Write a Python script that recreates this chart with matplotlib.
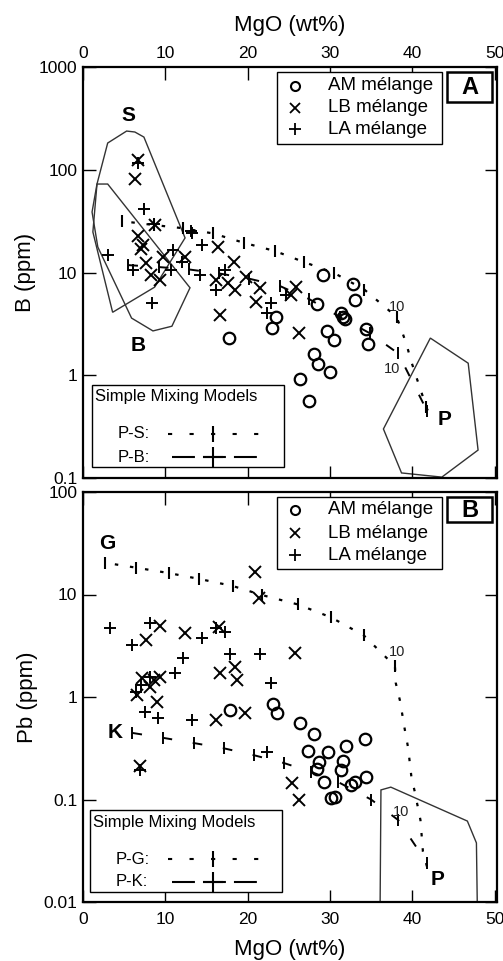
import matplotlib.pyplot as plt
from matplotlib.patches import Rectangle, Polygon
from matplotlib.lines import Line2D

plt.rcParams['font.family'] = ['Liberation Sans', 'DejaVu Sans']
plt.rcParams['lines.scale_dashes'] = False

# ---------------- data, panel A (B vs MgO) ----------------
am_mgo_a = [17.7, 23.5, 23.0, 29.2, 32.8, 33.0, 28.4, 31.3, 31.8, 31.6, 34.4, 34.6, 29.7, 30.5, 28.1, 28.6, 30.0, 26.4, 27.4]
am_b_a = [2.3, 3.7, 2.9, 9.4, 7.7, 5.4, 4.9, 4.0, 3.5, 3.7, 2.8, 2.0, 2.7, 2.2, 1.6, 1.3, 1.08, 0.92, 0.56]

lb_mgo_a = [6.7, 6.3, 8.7, 6.7, 7.3, 7.0, 7.7, 8.3, 9.3, 9.7, 12.4, 16.4, 18.4, 19.8, 16.1, 17.6, 18.5, 21.5, 21.0, 16.6, 25.9, 25.3, 26.2]
lb_b_a = [124, 82, 29, 22.6, 18.6, 17.0, 12.3, 9.5, 8.5, 14, 14, 17.8, 12.6, 9.0, 8.5, 7.9, 6.8, 7.1, 5.2, 3.9, 7.2, 6.0, 2.6]

la_mgo_a = [6.7, 7.4, 8.6, 13.1, 14.4, 3.0, 6.1, 10.9, 10.7, 12.0, 14.2, 16.2, 17.2, 8.4, 13.2, 22.8, 22.3, 24.7]
la_b_a = [117, 41.6, 29.7, 25.6, 18.6, 14.8, 10.5, 16.6, 10.5, 12.7, 9.4, 6.7, 10.5, 5.0, 24.3, 5.1, 4.0, 6.0]

# simple mixing P-S (ticks and curve)
ps_tick_mgo = [4.7, 8.6, 12.1, 15.8, 19.6, 23.3, 26.9, 30.5, 34.2, 38.1, 41.7]
ps_tick_b = [31.6, 29, 27, 24, 19.4, 16.2, 12.6, 9.9, 6.8, 3.7, 0.49]
ps_mgo = [4.7, 8.6, 12.1, 15.8, 19.6, 23.3, 26.9, 30.5, 34.2, 38.1, 38.7, 39.3, 39.9, 40.5, 41.1, 41.7, 42.2]
ps_b = [31.6, 29, 27, 24, 19.4, 16.2, 12.6, 9.9, 6.8, 3.7, 2.75, 2.0, 1.35, 0.96, 0.69, 0.49, 0.4]

# simple mixing P-B
pb_mgo = [5.5, 9.2, 12.9, 16.5, 20.2, 23.9, 27.5, 31.2, 34.9, 38.3, 41.8]
pb_b = [11.8, 11.3, 10.7, 9.8, 8.7, 7.4, 5.5, 3.7, 2.55, 1.63, 0.45]

# end-member fields
s_field_mgo = [3.0, 5.3, 6.3, 7.4, 12.4, 8.7, 3.6, 1.2, 1.7]
s_field_b = [182, 238, 233, 208, 21.7, 7.2, 4.1, 24.8, 72.6]
b_field_mgo = [1.7, 3.0, 13.0, 10.8, 8.5, 5.9, 1.8, 1.1]
b_field_b = [72.6, 72.6, 7.1, 3.0, 2.7, 3.6, 17.7, 38.8]
p_field_mgo_a = [42.2, 46.8, 48.0, 43.6, 38.7, 36.5]
p_field_b = [2.3, 1.31, 0.187, 0.102, 0.112, 0.30]

# ---------------- data, panel B (Pb vs MgO) ----------------
am_mgo_b = [17.8, 23.1, 23.6, 26.4, 28.1, 27.3, 29.8, 31.9, 34.3, 28.7, 31.6, 28.4, 31.3, 29.3, 33.0, 32.6, 34.4, 30.1, 30.6]
am_pb_b = [0.75, 0.85, 0.70, 0.56, 0.44, 0.30, 0.29, 0.33, 0.39, 0.23, 0.24, 0.20, 0.195, 0.148, 0.148, 0.14, 0.167, 0.104, 0.106]

lb_mgo_b = [20.9, 21.4, 9.4, 7.6, 12.4, 16.5, 25.7, 16.7, 18.5, 18.7, 7.2, 9.3, 6.6, 9.0, 16.1, 19.7, 6.9, 8.1, 25.4, 26.2, 8.6]
lb_pb_b = [16.6, 9.2, 4.9, 3.6, 4.2, 4.8, 2.7, 1.7, 1.96, 1.47, 1.53, 1.57, 1.05, 0.89, 0.6, 0.7, 0.21, 1.25, 0.145, 0.10, 1.45]

la_mgo_b = [3.3, 8.2, 6.0, 14.5, 16.1, 17.3, 12.1, 17.9, 21.5, 11.2, 8.1, 6.4, 22.9, 7.5, 9.1, 13.3, 22.3, 6.9, 7.0]
la_pb_b = [4.7, 5.3, 3.2, 3.8, 4.7, 4.3, 2.4, 2.6, 2.6, 1.7, 1.57, 1.12, 1.37, 0.71, 0.62, 0.6, 0.29, 0.195, 1.3]

# simple mixing P-G
pg_tick_mgo = [2.7, 6.4, 10.4, 14.1, 18.2, 21.7, 26.1, 30.1, 34.1, 37.9]
pg_tick_pb = [20.4, 18.3, 16.2, 14.2, 12.1, 9.9, 8.0, 6.0, 4.0, 2.0]
pg_mgo = [2.7, 6.4, 10.4, 14.1, 18.2, 21.7, 26.1, 30.1, 34.1, 37.9, 38.0, 38.5, 38.8, 39.1, 39.5, 39.9, 40.3, 41.0, 41.3, 41.8]
pg_pb = [20.4, 18.3, 16.2, 14.2, 12.1, 9.9, 8.0, 6.0, 4.0, 2.0, 1.37, 0.93, 0.67, 0.48, 0.32, 0.166, 0.12, 0.063, 0.031, 0.022]

# simple mixing P-K
pk_mgo = [6.0, 9.7, 13.5, 17.1, 20.8, 24.4, 27.7, 31.0, 35.0, 38.3, 41.8]
pk_pb = [0.446, 0.40, 0.355, 0.316, 0.27, 0.227, 0.186, 0.148, 0.10, 0.063, 0.024]

p_field_mgo_b = [36.2, 37.4, 46.7, 47.8, 47.9, 36.1]
p_field_pb = [0.124, 0.132, 0.0616, 0.0377, 0.01, 0.01]

mgo_ticks = [0, 10, 20, 30, 40, 50]
b_ticks = [0.1, 1, 10, 100, 1000]
b_ticklabels = ['0.1', '1', '10', '100', '1000']
pb_ticks = [0.01, 0.1, 1, 10, 100]
pb_ticklabels = ['0.01', '0.1', '1', '10', '100']
group_labels = ['AM mélange', 'LB mélange', 'LA mélange']

W, H = 503, 961


def fp(x, y):
    # pixel (from top left) -> figure fraction
    return (x / W, 1 - y / H)


fig = plt.figure(figsize=(W / 100, H / 100), dpi=100)
ax1 = fig.add_axes([83 / W, 1 - 478 / H, 414 / W, 411 / H])
ax2 = fig.add_axes([83 / W, 1 - 902 / H, 414 / W, 410 / H])

for ax in (ax1, ax2):
    ax.set_yscale('log')
    ax.set_xlim(0, 50.3)
    ax.set_xticks(mgo_ticks)
    ax.minorticks_off()
    ax.tick_params(direction='in', top=True, right=True, length=9, width=1, labelsize=12.5, pad=4)
    for s in ax.spines.values():
        s.set_linewidth(1.6)

ax1.set_ylim(0.1, 1000)
ax1.set_yticks(b_ticks, b_ticklabels)
ax1.minorticks_off()
ax1.tick_params(axis='x', labeltop=True, labelbottom=False)
ax1.xaxis.set_label_position('top')
ax1.set_xlabel('MgO (wt%)', fontsize=16, labelpad=11)
ax1.set_ylabel('B (ppm)', fontsize=16, labelpad=2)

ax2.set_ylim(0.01, 100)
ax2.set_yticks(pb_ticks, pb_ticklabels)
ax2.minorticks_off()
ax2.tick_params(axis='x', pad=7)
ax2.set_xlabel('MgO (wt%)', fontsize=16, labelpad=9)
ax2.set_ylabel('Pb (ppm)', fontsize=16, labelpad=4)

field_kw = dict(fill=False, ec='#333333', lw=1.0)
dot_ls = (4, (2.5, 8.5))
dash_ls = (0, (7, 15))

# panel A
ax1.add_patch(Polygon(list(zip(s_field_mgo, s_field_b)), **field_kw))
ax1.add_patch(Polygon(list(zip(b_field_mgo, b_field_b)), **field_kw))
ax1.add_patch(Polygon(list(zip(p_field_mgo_a, p_field_b)), **field_kw))
ax1.plot(ps_mgo, ps_b, color='k', lw=1.6, ls=dot_ls)
ax1.plot(ps_tick_mgo, ps_tick_b, '|', color='k', ms=9, mew=1.5)
ax1.plot(pb_mgo, pb_b, color='k', lw=1.4, ls=dash_ls, marker='|', ms=9, mew=1.4)
ax1.plot(am_mgo_a, am_b_a, 'o', mfc='none', mec='k', ms=8.3, mew=1.6)
ax1.plot(lb_mgo_a, lb_b_a, 'x', color='k', ms=9, mew=1.4)
ax1.plot(la_mgo_a, la_b_a, '+', color='k', ms=9, mew=1.4)
ax1.text(5.5, 340, 'S', fontsize=15, fontweight='bold', ha='center', va='center')
ax1.text(6.7, 1.95, 'B', fontsize=15, fontweight='bold', ha='center', va='center')
ax1.text(43.9, 0.37, 'P', fontsize=15, fontweight='bold', ha='center', va='center')
ax1.text(38.2, 4.6, '10', fontsize=10.5, ha='center', va='center', color='#222222')
ax1.text(37.6, 1.15, '10', fontsize=10.5, ha='center', va='center', color='#222222')

# panel B
ax2.add_patch(Polygon(list(zip(p_field_mgo_b, p_field_pb)), **field_kw))
ax2.plot(pg_mgo, pg_pb, color='k', lw=1.6, ls=dot_ls)
ax2.plot(pg_tick_mgo, pg_tick_pb, '|', color='k', ms=9, mew=1.5)
ax2.plot(pk_mgo, pk_pb, color='k', lw=1.4, ls=dash_ls, marker='|', ms=9, mew=1.4)
ax2.plot(am_mgo_b, am_pb_b, 'o', mfc='none', mec='k', ms=8.3, mew=1.6)
ax2.plot(lb_mgo_b, lb_pb_b, 'x', color='k', ms=9, mew=1.4)
ax2.plot(la_mgo_b, la_pb_b, '+', color='k', ms=9, mew=1.4)
ax2.text(2.9, 31.5, 'G', fontsize=15, fontweight='bold', ha='center', va='center')
ax2.text(4.8, 0.45, 'K', fontsize=15, fontweight='bold', ha='right', va='center')
ax2.text(43.1, 0.0165, 'P', fontsize=15, fontweight='bold', ha='center', va='center')
ax2.text(38.1, 2.75, '10', fontsize=10.5, ha='center', va='center', color='#222222')
ax2.text(38.6, 0.076, '10', fontsize=10.5, ha='center', va='center', color='#222222')


def group_key(top, rows):
    # top: pixel row of the box's upper edge
    fig.add_artist(Rectangle(fp(277, top + 72), 165 / W, 72 / H, transform=fig.transFigure,
                             fc='white', ec='k', lw=1.0))
    styles = [dict(marker='o', mfc='none', mec='k', ms=6.5, mew=1.5),
              dict(marker='x', color='k', ms=7.5, mew=1.3),
              dict(marker='+', color='k', ms=9, mew=1.3)]
    for yy, lab, st in zip(rows, group_labels, styles):
        x0, y0 = fp(295, yy)
        fig.add_artist(Line2D([x0], [y0], transform=fig.transFigure, ls='none', **st))
        fig.text(*fp(328, yy), lab, fontsize=13.5, va='center', ha='left')


def panel_tag(top, h, tag):
    fig.add_artist(Rectangle(fp(447, top + h), 45 / W, h / H, transform=fig.transFigure,
                             fc='white', ec='k', lw=1.8))
    fig.text(*fp(469.5, top + h / 2 + 1), tag, fontsize=17, fontweight='bold', ha='center', va='center')


def mix_key(left, top, names):
    fig.add_artist(Rectangle(fp(left, top + 82), 192 / W, 82 / H, transform=fig.transFigure,
                             fc='white', ec='k', lw=1.0))
    fig.text(*fp(left + 3, top + 12), 'Simple Mixing Models', fontsize=12, ha='left', va='center')
    y1 = top + 49
    y2 = top + 72
    fig.text(*fp(left + 26, y1), names[0], fontsize=12, ha='left', va='center')
    fig.text(*fp(left + 26, y2), names[1], fontsize=12, ha='left', va='center')
    xs = [fp(168, 0)[0], fp(213, 0)[0], fp(262, 0)[0]]
    fig.add_artist(Line2D(xs, [fp(0, y1)[1]] * 3, transform=fig.transFigure, color='k', lw=1.5,
                          ls=(0, (3, 12.5)), marker='|', ms=12, mew=1.5, markevery=[1]))
    xs = [fp(172, 0)[0], fp(213, 0)[0], fp(258, 0)[0]]
    fig.add_artist(Line2D(xs, [fp(0, y2)[1]] * 3, transform=fig.transFigure, color='k', lw=1.5,
                          ls=(0, (16.5, 5.8)), marker='+', ms=15, mew=1.5, markevery=[1]))


group_key(72, [86, 108, 129])
panel_tag(72, 30, 'A')
mix_key(92, 385, ['P-S:', 'P-B:'])

group_key(497, [510, 533, 555])
panel_tag(497, 25, 'B')
mix_key(90, 810, ['P-G:', 'P-K:'])

fig.savefig('out.png', dpi=100)
